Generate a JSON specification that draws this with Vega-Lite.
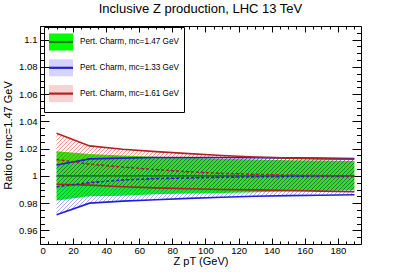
{
"$schema": "https://vega.github.io/schema/vega-lite/v6.json",
"width": 321,
"height": 218,
"autosize": {"type": "none"},
"padding": {"left": 40, "top": 26, "right": 40, "bottom": 28},
"background": "white",
"title": {"text": "Inclusive Z production, LHC 13 TeV", "font": "Liberation Sans", "fontSize": 13, "fontWeight": "normal", "anchor": "middle", "offset": 10, "color": "black"},
"data": {"values": [
{"s":"Pert. Charm, mc=1.47 GeV","k":"g","x":10,"lo":0.982,"c":1,"hi":1.018},
{"s":"Pert. Charm, mc=1.47 GeV","k":"g","x":30,"lo":0.985,"c":1,"hi":1.016},
{"s":"Pert. Charm, mc=1.47 GeV","k":"g","x":50,"lo":0.9855,"c":1,"hi":1.015},
{"s":"Pert. Charm, mc=1.47 GeV","k":"g","x":70,"lo":0.9865,"c":1,"hi":1.014},
{"s":"Pert. Charm, mc=1.47 GeV","k":"g","x":90,"lo":0.987,"c":1,"hi":1.0133},
{"s":"Pert. Charm, mc=1.47 GeV","k":"g","x":110,"lo":0.9875,"c":1,"hi":1.0125},
{"s":"Pert. Charm, mc=1.47 GeV","k":"g","x":130,"lo":0.988,"c":1,"hi":1.012},
{"s":"Pert. Charm, mc=1.47 GeV","k":"g","x":150,"lo":0.9885,"c":1,"hi":1.0115},
{"s":"Pert. Charm, mc=1.47 GeV","k":"g","x":170,"lo":0.989,"c":1,"hi":1.0112},
{"s":"Pert. Charm, mc=1.47 GeV","k":"g","x":190,"lo":0.9895,"c":1,"hi":1.011},
{"s":"Pert. Charm, mc=1.33 GeV","k":"b","x":10,"lo":0.9714,"c":0.992,"hi":1.008},
{"s":"Pert. Charm, mc=1.33 GeV","k":"b","x":30,"lo":0.98,"c":0.995,"hi":1.0125},
{"s":"Pert. Charm, mc=1.33 GeV","k":"b","x":50,"lo":0.9815,"c":0.997,"hi":1.013},
{"s":"Pert. Charm, mc=1.33 GeV","k":"b","x":70,"lo":0.9825,"c":0.998,"hi":1.0135},
{"s":"Pert. Charm, mc=1.33 GeV","k":"b","x":90,"lo":0.9835,"c":0.9985,"hi":1.0135},
{"s":"Pert. Charm, mc=1.33 GeV","k":"b","x":110,"lo":0.9843,"c":0.999,"hi":1.0135},
{"s":"Pert. Charm, mc=1.33 GeV","k":"b","x":130,"lo":0.985,"c":0.9993,"hi":1.0134},
{"s":"Pert. Charm, mc=1.33 GeV","k":"b","x":150,"lo":0.9855,"c":0.9995,"hi":1.0132},
{"s":"Pert. Charm, mc=1.33 GeV","k":"b","x":170,"lo":0.9858,"c":0.9995,"hi":1.013},
{"s":"Pert. Charm, mc=1.33 GeV","k":"b","x":190,"lo":0.9861,"c":0.9995,"hi":1.0127},
{"s":"Pert. Charm, mc=1.61 GeV","k":"r","x":10,"lo":0.9939,"c":1.012,"hi":1.0313},
{"s":"Pert. Charm, mc=1.61 GeV","k":"r","x":30,"lo":0.9932,"c":1.0086,"hi":1.022},
{"s":"Pert. Charm, mc=1.61 GeV","k":"r","x":50,"lo":0.992,"c":1.0065,"hi":1.0195},
{"s":"Pert. Charm, mc=1.61 GeV","k":"r","x":70,"lo":0.9912,"c":1.0046,"hi":1.0178},
{"s":"Pert. Charm, mc=1.61 GeV","k":"r","x":90,"lo":0.9905,"c":1.003,"hi":1.0163},
{"s":"Pert. Charm, mc=1.61 GeV","k":"r","x":110,"lo":0.99,"c":1.0018,"hi":1.015},
{"s":"Pert. Charm, mc=1.61 GeV","k":"r","x":130,"lo":0.9897,"c":1.0012,"hi":1.0138},
{"s":"Pert. Charm, mc=1.61 GeV","k":"r","x":150,"lo":0.9893,"c":1.0006,"hi":1.013},
{"s":"Pert. Charm, mc=1.61 GeV","k":"r","x":170,"lo":0.9888,"c":1.0002,"hi":1.0125},
{"s":"Pert. Charm, mc=1.61 GeV","k":"r","x":190,"lo":0.9883,"c":1.0,"hi":1.0122}
]},
"resolve": {"axis": {"x": "independent", "y": "independent"}},
"layer": [
{
"transform": [{"filter": "datum.k === 'g'"}],
"mark": {"type": "area", "opacity": 1},
"encoding": {
"x": {"field": "x", "type": "quantitative", "scale": {"domain": [0, 194], "nice": false, "zero": false},
 "axis": {"orient": "bottom", "values": [0,20,40,60,80,100,120,140,160,180], "tickSize": -6, "labelPadding": 7.5, "title": "Z pT (GeV)", "titlePadding": 0}},
"y": {"field": "lo", "type": "quantitative", "scale": {"domain": [0.95, 1.11], "nice": false, "zero": false},
 "axis": {"orient": "left", "values": [0.96,0.98,1,1.02,1.04,1.06,1.08,1.1], "format": "~g", "tickSize": -9, "labelPadding": 12, "title": "Ratio to mc=1.47 GeV", "titlePadding": 5}},
"y2": {"field": "hi"},
"fill": {"field": "s", "type": "nominal",
 "scale": {"domain": ["Pert. Charm, mc=1.47 GeV", "Pert. Charm, mc=1.33 GeV", "Pert. Charm, mc=1.61 GeV"],
  "range": ["#00ff00", "#d4d4ff", "#f8d2d2"]},
 "legend": {"title": null, "orient": "none", "legendX": 4, "legendY": 1, "direction": "vertical", "strokeColor": "black", "padding": 5, "symbolType": "M-1.41,-1H1.41V1H-1.41Z", "symbolSize": 289, "symbolStrokeWidth": 2.2, "symbolStrokeColor": "transparent", "symbolOffset": 2, "symbolOpacity": 1, "labelFont": "Liberation Sans", "labelFontSize": 8.2, "labelColor": "black", "labelOffset": 9, "rowPadding": -0.2, "labelLimit": 300}}
}
},
{
"transform": [{"filter": "datum.k === 'r'"}],
"mark": {"type": "area", "fillOpacity": 0.45, "fill": {"gradient":"linear","x1":0,"y1":0,"x2":1.2931,"y2":0.2545,"stops":[
{"offset":0.006,"color":"#f000"},{"offset":0.008,"color":"#f00"},{"offset":0.01,"color":"#f000"},
{"offset":0.016,"color":"#f000"},{"offset":0.018,"color":"#f00"},{"offset":0.02,"color":"#f000"},
{"offset":0.026,"color":"#f000"},{"offset":0.028,"color":"#f00"},{"offset":0.03,"color":"#f000"},
{"offset":0.036,"color":"#f000"},{"offset":0.038,"color":"#f00"},{"offset":0.04,"color":"#f000"},
{"offset":0.046,"color":"#f000"},{"offset":0.048,"color":"#f00"},{"offset":0.05,"color":"#f000"},
{"offset":0.056,"color":"#f000"},{"offset":0.058,"color":"#f00"},{"offset":0.06,"color":"#f000"},
{"offset":0.066,"color":"#f000"},{"offset":0.068,"color":"#f00"},{"offset":0.07,"color":"#f000"},
{"offset":0.076,"color":"#f000"},{"offset":0.078,"color":"#f00"},{"offset":0.08,"color":"#f000"},
{"offset":0.086,"color":"#f000"},{"offset":0.088,"color":"#f00"},{"offset":0.09,"color":"#f000"},
{"offset":0.096,"color":"#f000"},{"offset":0.098,"color":"#f00"},{"offset":0.1,"color":"#f000"},
{"offset":0.106,"color":"#f000"},{"offset":0.108,"color":"#f00"},{"offset":0.11,"color":"#f000"},
{"offset":0.116,"color":"#f000"},{"offset":0.118,"color":"#f00"},{"offset":0.12,"color":"#f000"},
{"offset":0.126,"color":"#f000"},{"offset":0.128,"color":"#f00"},{"offset":0.13,"color":"#f000"},
{"offset":0.136,"color":"#f000"},{"offset":0.138,"color":"#f00"},{"offset":0.14,"color":"#f000"},
{"offset":0.146,"color":"#f000"},{"offset":0.148,"color":"#f00"},{"offset":0.15,"color":"#f000"},
{"offset":0.156,"color":"#f000"},{"offset":0.158,"color":"#f00"},{"offset":0.16,"color":"#f000"},
{"offset":0.166,"color":"#f000"},{"offset":0.168,"color":"#f00"},{"offset":0.17,"color":"#f000"},
{"offset":0.176,"color":"#f000"},{"offset":0.178,"color":"#f00"},{"offset":0.18,"color":"#f000"},
{"offset":0.186,"color":"#f000"},{"offset":0.188,"color":"#f00"},{"offset":0.19,"color":"#f000"},
{"offset":0.196,"color":"#f000"},{"offset":0.198,"color":"#f00"},{"offset":0.2,"color":"#f000"},
{"offset":0.206,"color":"#f000"},{"offset":0.208,"color":"#f00"},{"offset":0.21,"color":"#f000"},
{"offset":0.216,"color":"#f000"},{"offset":0.218,"color":"#f00"},{"offset":0.22,"color":"#f000"},
{"offset":0.226,"color":"#f000"},{"offset":0.228,"color":"#f00"},{"offset":0.23,"color":"#f000"},
{"offset":0.236,"color":"#f000"},{"offset":0.238,"color":"#f00"},{"offset":0.24,"color":"#f000"},
{"offset":0.246,"color":"#f000"},{"offset":0.248,"color":"#f00"},{"offset":0.25,"color":"#f000"},
{"offset":0.256,"color":"#f000"},{"offset":0.258,"color":"#f00"},{"offset":0.26,"color":"#f000"},
{"offset":0.266,"color":"#f000"},{"offset":0.268,"color":"#f00"},{"offset":0.27,"color":"#f000"},
{"offset":0.276,"color":"#f000"},{"offset":0.278,"color":"#f00"},{"offset":0.28,"color":"#f000"},
{"offset":0.286,"color":"#f000"},{"offset":0.288,"color":"#f00"},{"offset":0.29,"color":"#f000"},
{"offset":0.296,"color":"#f000"},{"offset":0.298,"color":"#f00"},{"offset":0.3,"color":"#f000"},
{"offset":0.306,"color":"#f000"},{"offset":0.308,"color":"#f00"},{"offset":0.31,"color":"#f000"},
{"offset":0.316,"color":"#f000"},{"offset":0.318,"color":"#f00"},{"offset":0.32,"color":"#f000"},
{"offset":0.326,"color":"#f000"},{"offset":0.328,"color":"#f00"},{"offset":0.33,"color":"#f000"},
{"offset":0.336,"color":"#f000"},{"offset":0.338,"color":"#f00"},{"offset":0.34,"color":"#f000"},
{"offset":0.346,"color":"#f000"},{"offset":0.348,"color":"#f00"},{"offset":0.35,"color":"#f000"},
{"offset":0.356,"color":"#f000"},{"offset":0.358,"color":"#f00"},{"offset":0.36,"color":"#f000"},
{"offset":0.366,"color":"#f000"},{"offset":0.368,"color":"#f00"},{"offset":0.37,"color":"#f000"},
{"offset":0.376,"color":"#f000"},{"offset":0.378,"color":"#f00"},{"offset":0.38,"color":"#f000"},
{"offset":0.386,"color":"#f000"},{"offset":0.388,"color":"#f00"},{"offset":0.39,"color":"#f000"},
{"offset":0.396,"color":"#f000"},{"offset":0.398,"color":"#f00"},{"offset":0.4,"color":"#f000"},
{"offset":0.406,"color":"#f000"},{"offset":0.408,"color":"#f00"},{"offset":0.41,"color":"#f000"},
{"offset":0.416,"color":"#f000"},{"offset":0.418,"color":"#f00"},{"offset":0.42,"color":"#f000"},
{"offset":0.426,"color":"#f000"},{"offset":0.428,"color":"#f00"},{"offset":0.43,"color":"#f000"},
{"offset":0.436,"color":"#f000"},{"offset":0.438,"color":"#f00"},{"offset":0.44,"color":"#f000"},
{"offset":0.446,"color":"#f000"},{"offset":0.448,"color":"#f00"},{"offset":0.45,"color":"#f000"},
{"offset":0.456,"color":"#f000"},{"offset":0.458,"color":"#f00"},{"offset":0.46,"color":"#f000"},
{"offset":0.466,"color":"#f000"},{"offset":0.468,"color":"#f00"},{"offset":0.47,"color":"#f000"},
{"offset":0.476,"color":"#f000"},{"offset":0.478,"color":"#f00"},{"offset":0.48,"color":"#f000"},
{"offset":0.486,"color":"#f000"},{"offset":0.488,"color":"#f00"},{"offset":0.49,"color":"#f000"},
{"offset":0.496,"color":"#f000"},{"offset":0.498,"color":"#f00"},{"offset":0.5,"color":"#f000"},
{"offset":0.506,"color":"#f000"},{"offset":0.508,"color":"#f00"},{"offset":0.51,"color":"#f000"},
{"offset":0.516,"color":"#f000"},{"offset":0.518,"color":"#f00"},{"offset":0.52,"color":"#f000"},
{"offset":0.526,"color":"#f000"},{"offset":0.528,"color":"#f00"},{"offset":0.53,"color":"#f000"},
{"offset":0.536,"color":"#f000"},{"offset":0.538,"color":"#f00"},{"offset":0.54,"color":"#f000"},
{"offset":0.546,"color":"#f000"},{"offset":0.548,"color":"#f00"},{"offset":0.55,"color":"#f000"},
{"offset":0.556,"color":"#f000"},{"offset":0.558,"color":"#f00"},{"offset":0.56,"color":"#f000"},
{"offset":0.566,"color":"#f000"},{"offset":0.568,"color":"#f00"},{"offset":0.57,"color":"#f000"},
{"offset":0.576,"color":"#f000"},{"offset":0.578,"color":"#f00"},{"offset":0.58,"color":"#f000"},
{"offset":0.586,"color":"#f000"},{"offset":0.588,"color":"#f00"},{"offset":0.59,"color":"#f000"},
{"offset":0.596,"color":"#f000"},{"offset":0.598,"color":"#f00"},{"offset":0.6,"color":"#f000"},
{"offset":0.606,"color":"#f000"},{"offset":0.608,"color":"#f00"},{"offset":0.61,"color":"#f000"},
{"offset":0.616,"color":"#f000"},{"offset":0.618,"color":"#f00"},{"offset":0.62,"color":"#f000"},
{"offset":0.626,"color":"#f000"},{"offset":0.628,"color":"#f00"},{"offset":0.63,"color":"#f000"},
{"offset":0.636,"color":"#f000"},{"offset":0.638,"color":"#f00"},{"offset":0.64,"color":"#f000"},
{"offset":0.646,"color":"#f000"},{"offset":0.648,"color":"#f00"},{"offset":0.65,"color":"#f000"},
{"offset":0.656,"color":"#f000"},{"offset":0.658,"color":"#f00"},{"offset":0.66,"color":"#f000"},
{"offset":0.666,"color":"#f000"},{"offset":0.668,"color":"#f00"},{"offset":0.67,"color":"#f000"},
{"offset":0.676,"color":"#f000"},{"offset":0.678,"color":"#f00"},{"offset":0.68,"color":"#f000"},
{"offset":0.686,"color":"#f000"},{"offset":0.688,"color":"#f00"},{"offset":0.69,"color":"#f000"},
{"offset":0.696,"color":"#f000"},{"offset":0.698,"color":"#f00"},{"offset":0.7,"color":"#f000"},
{"offset":0.706,"color":"#f000"},{"offset":0.708,"color":"#f00"},{"offset":0.71,"color":"#f000"},
{"offset":0.716,"color":"#f000"},{"offset":0.718,"color":"#f00"},{"offset":0.72,"color":"#f000"},
{"offset":0.726,"color":"#f000"},{"offset":0.728,"color":"#f00"},{"offset":0.73,"color":"#f000"},
{"offset":0.736,"color":"#f000"},{"offset":0.738,"color":"#f00"},{"offset":0.74,"color":"#f000"},
{"offset":0.746,"color":"#f000"},{"offset":0.748,"color":"#f00"},{"offset":0.75,"color":"#f000"},
{"offset":0.756,"color":"#f000"},{"offset":0.758,"color":"#f00"},{"offset":0.76,"color":"#f000"},
{"offset":0.766,"color":"#f000"},{"offset":0.768,"color":"#f00"},{"offset":0.77,"color":"#f000"},
{"offset":0.776,"color":"#f000"},{"offset":0.778,"color":"#f00"},{"offset":0.78,"color":"#f000"},
{"offset":0.786,"color":"#f000"},{"offset":0.788,"color":"#f00"},{"offset":0.79,"color":"#f000"},
{"offset":0.796,"color":"#f000"},{"offset":0.798,"color":"#f00"},{"offset":0.8,"color":"#f000"},
{"offset":0.806,"color":"#f000"},{"offset":0.808,"color":"#f00"},{"offset":0.81,"color":"#f000"},
{"offset":0.816,"color":"#f000"},{"offset":0.818,"color":"#f00"},{"offset":0.82,"color":"#f000"},
{"offset":0.826,"color":"#f000"},{"offset":0.828,"color":"#f00"},{"offset":0.83,"color":"#f000"},
{"offset":0.836,"color":"#f000"},{"offset":0.838,"color":"#f00"},{"offset":0.84,"color":"#f000"},
{"offset":0.846,"color":"#f000"},{"offset":0.848,"color":"#f00"},{"offset":0.85,"color":"#f000"},
{"offset":0.856,"color":"#f000"},{"offset":0.858,"color":"#f00"},{"offset":0.86,"color":"#f000"},
{"offset":0.866,"color":"#f000"},{"offset":0.868,"color":"#f00"},{"offset":0.87,"color":"#f000"},
{"offset":0.876,"color":"#f000"},{"offset":0.878,"color":"#f00"},{"offset":0.88,"color":"#f000"},
{"offset":0.886,"color":"#f000"},{"offset":0.888,"color":"#f00"},{"offset":0.89,"color":"#f000"},
{"offset":0.896,"color":"#f000"},{"offset":0.898,"color":"#f00"},{"offset":0.9,"color":"#f000"}
]}},
"encoding": {
"x": {"field": "x", "type": "quantitative", "axis": {"orient": "top", "values": [0,20,40,60,80,100,120,140,160,180], "tickSize": -6, "labels": false, "title": null}},
"y": {"field": "lo", "type": "quantitative", "axis": {"orient": "right", "values": [0.96,0.98,1,1.02,1.04,1.06,1.08,1.1], "tickSize": -9, "labels": false, "title": null}},
"y2": {"field": "hi"}
}
},
{
"transform": [{"filter": "datum.k === 'b'"}],
"mark": {"type": "area", "fillOpacity": 0.45, "fill": {"gradient":"linear","x1":0,"y1":0,"x2":1.2951,"y2":0.2496,"stops":[
{"offset":0.006,"color":"#00f0"},{"offset":0.008,"color":"#00f"},{"offset":0.01,"color":"#00f0"},
{"offset":0.016,"color":"#00f0"},{"offset":0.018,"color":"#00f"},{"offset":0.02,"color":"#00f0"},
{"offset":0.026,"color":"#00f0"},{"offset":0.028,"color":"#00f"},{"offset":0.03,"color":"#00f0"},
{"offset":0.036,"color":"#00f0"},{"offset":0.038,"color":"#00f"},{"offset":0.04,"color":"#00f0"},
{"offset":0.046,"color":"#00f0"},{"offset":0.048,"color":"#00f"},{"offset":0.05,"color":"#00f0"},
{"offset":0.056,"color":"#00f0"},{"offset":0.058,"color":"#00f"},{"offset":0.06,"color":"#00f0"},
{"offset":0.066,"color":"#00f0"},{"offset":0.068,"color":"#00f"},{"offset":0.07,"color":"#00f0"},
{"offset":0.076,"color":"#00f0"},{"offset":0.078,"color":"#00f"},{"offset":0.08,"color":"#00f0"},
{"offset":0.086,"color":"#00f0"},{"offset":0.088,"color":"#00f"},{"offset":0.09,"color":"#00f0"},
{"offset":0.096,"color":"#00f0"},{"offset":0.098,"color":"#00f"},{"offset":0.1,"color":"#00f0"},
{"offset":0.106,"color":"#00f0"},{"offset":0.108,"color":"#00f"},{"offset":0.11,"color":"#00f0"},
{"offset":0.116,"color":"#00f0"},{"offset":0.118,"color":"#00f"},{"offset":0.12,"color":"#00f0"},
{"offset":0.126,"color":"#00f0"},{"offset":0.128,"color":"#00f"},{"offset":0.13,"color":"#00f0"},
{"offset":0.136,"color":"#00f0"},{"offset":0.138,"color":"#00f"},{"offset":0.14,"color":"#00f0"},
{"offset":0.146,"color":"#00f0"},{"offset":0.148,"color":"#00f"},{"offset":0.15,"color":"#00f0"},
{"offset":0.156,"color":"#00f0"},{"offset":0.158,"color":"#00f"},{"offset":0.16,"color":"#00f0"},
{"offset":0.166,"color":"#00f0"},{"offset":0.168,"color":"#00f"},{"offset":0.17,"color":"#00f0"},
{"offset":0.176,"color":"#00f0"},{"offset":0.178,"color":"#00f"},{"offset":0.18,"color":"#00f0"},
{"offset":0.186,"color":"#00f0"},{"offset":0.188,"color":"#00f"},{"offset":0.19,"color":"#00f0"},
{"offset":0.196,"color":"#00f0"},{"offset":0.198,"color":"#00f"},{"offset":0.2,"color":"#00f0"},
{"offset":0.206,"color":"#00f0"},{"offset":0.208,"color":"#00f"},{"offset":0.21,"color":"#00f0"},
{"offset":0.216,"color":"#00f0"},{"offset":0.218,"color":"#00f"},{"offset":0.22,"color":"#00f0"},
{"offset":0.226,"color":"#00f0"},{"offset":0.228,"color":"#00f"},{"offset":0.23,"color":"#00f0"},
{"offset":0.236,"color":"#00f0"},{"offset":0.238,"color":"#00f"},{"offset":0.24,"color":"#00f0"},
{"offset":0.246,"color":"#00f0"},{"offset":0.248,"color":"#00f"},{"offset":0.25,"color":"#00f0"},
{"offset":0.256,"color":"#00f0"},{"offset":0.258,"color":"#00f"},{"offset":0.26,"color":"#00f0"},
{"offset":0.266,"color":"#00f0"},{"offset":0.268,"color":"#00f"},{"offset":0.27,"color":"#00f0"},
{"offset":0.276,"color":"#00f0"},{"offset":0.278,"color":"#00f"},{"offset":0.28,"color":"#00f0"},
{"offset":0.286,"color":"#00f0"},{"offset":0.288,"color":"#00f"},{"offset":0.29,"color":"#00f0"},
{"offset":0.296,"color":"#00f0"},{"offset":0.298,"color":"#00f"},{"offset":0.3,"color":"#00f0"},
{"offset":0.306,"color":"#00f0"},{"offset":0.308,"color":"#00f"},{"offset":0.31,"color":"#00f0"},
{"offset":0.316,"color":"#00f0"},{"offset":0.318,"color":"#00f"},{"offset":0.32,"color":"#00f0"},
{"offset":0.326,"color":"#00f0"},{"offset":0.328,"color":"#00f"},{"offset":0.33,"color":"#00f0"},
{"offset":0.336,"color":"#00f0"},{"offset":0.338,"color":"#00f"},{"offset":0.34,"color":"#00f0"},
{"offset":0.346,"color":"#00f0"},{"offset":0.348,"color":"#00f"},{"offset":0.35,"color":"#00f0"},
{"offset":0.356,"color":"#00f0"},{"offset":0.358,"color":"#00f"},{"offset":0.36,"color":"#00f0"},
{"offset":0.366,"color":"#00f0"},{"offset":0.368,"color":"#00f"},{"offset":0.37,"color":"#00f0"},
{"offset":0.376,"color":"#00f0"},{"offset":0.378,"color":"#00f"},{"offset":0.38,"color":"#00f0"},
{"offset":0.386,"color":"#00f0"},{"offset":0.388,"color":"#00f"},{"offset":0.39,"color":"#00f0"},
{"offset":0.396,"color":"#00f0"},{"offset":0.398,"color":"#00f"},{"offset":0.4,"color":"#00f0"},
{"offset":0.406,"color":"#00f0"},{"offset":0.408,"color":"#00f"},{"offset":0.41,"color":"#00f0"},
{"offset":0.416,"color":"#00f0"},{"offset":0.418,"color":"#00f"},{"offset":0.42,"color":"#00f0"},
{"offset":0.426,"color":"#00f0"},{"offset":0.428,"color":"#00f"},{"offset":0.43,"color":"#00f0"},
{"offset":0.436,"color":"#00f0"},{"offset":0.438,"color":"#00f"},{"offset":0.44,"color":"#00f0"},
{"offset":0.446,"color":"#00f0"},{"offset":0.448,"color":"#00f"},{"offset":0.45,"color":"#00f0"},
{"offset":0.456,"color":"#00f0"},{"offset":0.458,"color":"#00f"},{"offset":0.46,"color":"#00f0"},
{"offset":0.466,"color":"#00f0"},{"offset":0.468,"color":"#00f"},{"offset":0.47,"color":"#00f0"},
{"offset":0.476,"color":"#00f0"},{"offset":0.478,"color":"#00f"},{"offset":0.48,"color":"#00f0"},
{"offset":0.486,"color":"#00f0"},{"offset":0.488,"color":"#00f"},{"offset":0.49,"color":"#00f0"},
{"offset":0.496,"color":"#00f0"},{"offset":0.498,"color":"#00f"},{"offset":0.5,"color":"#00f0"},
{"offset":0.506,"color":"#00f0"},{"offset":0.508,"color":"#00f"},{"offset":0.51,"color":"#00f0"},
{"offset":0.516,"color":"#00f0"},{"offset":0.518,"color":"#00f"},{"offset":0.52,"color":"#00f0"},
{"offset":0.526,"color":"#00f0"},{"offset":0.528,"color":"#00f"},{"offset":0.53,"color":"#00f0"},
{"offset":0.536,"color":"#00f0"},{"offset":0.538,"color":"#00f"},{"offset":0.54,"color":"#00f0"},
{"offset":0.546,"color":"#00f0"},{"offset":0.548,"color":"#00f"},{"offset":0.55,"color":"#00f0"},
{"offset":0.556,"color":"#00f0"},{"offset":0.558,"color":"#00f"},{"offset":0.56,"color":"#00f0"},
{"offset":0.566,"color":"#00f0"},{"offset":0.568,"color":"#00f"},{"offset":0.57,"color":"#00f0"},
{"offset":0.576,"color":"#00f0"},{"offset":0.578,"color":"#00f"},{"offset":0.58,"color":"#00f0"},
{"offset":0.586,"color":"#00f0"},{"offset":0.588,"color":"#00f"},{"offset":0.59,"color":"#00f0"},
{"offset":0.596,"color":"#00f0"},{"offset":0.598,"color":"#00f"},{"offset":0.6,"color":"#00f0"},
{"offset":0.606,"color":"#00f0"},{"offset":0.608,"color":"#00f"},{"offset":0.61,"color":"#00f0"},
{"offset":0.616,"color":"#00f0"},{"offset":0.618,"color":"#00f"},{"offset":0.62,"color":"#00f0"},
{"offset":0.626,"color":"#00f0"},{"offset":0.628,"color":"#00f"},{"offset":0.63,"color":"#00f0"},
{"offset":0.636,"color":"#00f0"},{"offset":0.638,"color":"#00f"},{"offset":0.64,"color":"#00f0"},
{"offset":0.646,"color":"#00f0"},{"offset":0.648,"color":"#00f"},{"offset":0.65,"color":"#00f0"},
{"offset":0.656,"color":"#00f0"},{"offset":0.658,"color":"#00f"},{"offset":0.66,"color":"#00f0"},
{"offset":0.666,"color":"#00f0"},{"offset":0.668,"color":"#00f"},{"offset":0.67,"color":"#00f0"},
{"offset":0.676,"color":"#00f0"},{"offset":0.678,"color":"#00f"},{"offset":0.68,"color":"#00f0"},
{"offset":0.686,"color":"#00f0"},{"offset":0.688,"color":"#00f"},{"offset":0.69,"color":"#00f0"},
{"offset":0.696,"color":"#00f0"},{"offset":0.698,"color":"#00f"},{"offset":0.7,"color":"#00f0"},
{"offset":0.706,"color":"#00f0"},{"offset":0.708,"color":"#00f"},{"offset":0.71,"color":"#00f0"},
{"offset":0.716,"color":"#00f0"},{"offset":0.718,"color":"#00f"},{"offset":0.72,"color":"#00f0"},
{"offset":0.726,"color":"#00f0"},{"offset":0.728,"color":"#00f"},{"offset":0.73,"color":"#00f0"},
{"offset":0.736,"color":"#00f0"},{"offset":0.738,"color":"#00f"},{"offset":0.74,"color":"#00f0"},
{"offset":0.746,"color":"#00f0"},{"offset":0.748,"color":"#00f"},{"offset":0.75,"color":"#00f0"},
{"offset":0.756,"color":"#00f0"},{"offset":0.758,"color":"#00f"},{"offset":0.76,"color":"#00f0"},
{"offset":0.766,"color":"#00f0"},{"offset":0.768,"color":"#00f"},{"offset":0.77,"color":"#00f0"},
{"offset":0.776,"color":"#00f0"},{"offset":0.778,"color":"#00f"},{"offset":0.78,"color":"#00f0"},
{"offset":0.786,"color":"#00f0"},{"offset":0.788,"color":"#00f"},{"offset":0.79,"color":"#00f0"},
{"offset":0.796,"color":"#00f0"},{"offset":0.798,"color":"#00f"},{"offset":0.8,"color":"#00f0"},
{"offset":0.806,"color":"#00f0"},{"offset":0.808,"color":"#00f"},{"offset":0.81,"color":"#00f0"},
{"offset":0.816,"color":"#00f0"},{"offset":0.818,"color":"#00f"},{"offset":0.82,"color":"#00f0"},
{"offset":0.826,"color":"#00f0"},{"offset":0.828,"color":"#00f"},{"offset":0.83,"color":"#00f0"},
{"offset":0.836,"color":"#00f0"},{"offset":0.838,"color":"#00f"},{"offset":0.84,"color":"#00f0"},
{"offset":0.846,"color":"#00f0"},{"offset":0.848,"color":"#00f"},{"offset":0.85,"color":"#00f0"},
{"offset":0.856,"color":"#00f0"},{"offset":0.858,"color":"#00f"},{"offset":0.86,"color":"#00f0"},
{"offset":0.866,"color":"#00f0"},{"offset":0.868,"color":"#00f"},{"offset":0.87,"color":"#00f0"},
{"offset":0.876,"color":"#00f0"},{"offset":0.878,"color":"#00f"},{"offset":0.88,"color":"#00f0"},
{"offset":0.886,"color":"#00f0"},{"offset":0.888,"color":"#00f"},{"offset":0.89,"color":"#00f0"},
{"offset":0.896,"color":"#00f0"},{"offset":0.898,"color":"#00f"},{"offset":0.9,"color":"#00f0"}
]}},
"encoding": {
"x": {"field": "x", "type": "quantitative", "axis": {"orient": "bottom", "values": [5,10,15,25,30,35,45,50,55,65,70,75,85,90,95,105,110,115,125,130,135,145,150,155,165,170,175,185,190], "tickSize": -3, "labels": false, "title": null}},
"y": {"field": "lo", "type": "quantitative", "axis": {"orient": "left", "values": [0.955,0.965,0.97,0.975,0.985,0.99,0.995,1.005,1.01,1.015,1.025,1.03,1.035,1.045,1.05,1.055,1.065,1.07,1.075,1.085,1.09,1.095,1.105], "tickSize": -4.5, "labels": false, "title": null}},
"y2": {"field": "hi"}
}
},
{
"transform": [{"filter": "datum.k !== 'g'"}],
"mark": {"type": "line", "strokeWidth": 1.6},
"encoding": {
"x": {"field": "x", "type": "quantitative", "axis": {"orient": "top", "values": [5,10,15,25,30,35,45,50,55,65,70,75,85,90,95,105,110,115,125,130,135,145,150,155,165,170,175,185,190], "tickSize": -3, "labels": false, "title": null}},
"y": {"field": "hi", "type": "quantitative", "axis": {"orient": "right", "values": [0.955,0.965,0.97,0.975,0.985,0.99,0.995,1.005,1.01,1.015,1.025,1.03,1.035,1.045,1.05,1.055,1.065,1.07,1.075,1.085,1.09,1.095,1.105], "tickSize": -4.5, "labels": false, "title": null}},
"stroke": {"field": "k", "type": "nominal", "scale": {"domain": ["g","b","r"], "range": ["#1a7a1a","#2020d8","#b22222"]}}
}
},
{
"transform": [{"filter": "datum.k !== 'g'"}],
"mark": {"type": "line", "strokeWidth": 1.6},
"encoding": {
"x": {"field": "x", "type": "quantitative", "axis": null},
"y": {"field": "lo", "type": "quantitative", "axis": null},
"stroke": {"field": "k", "type": "nominal"}
}
},
{
"mark": {"type": "line", "strokeWidth": 1.6},
"encoding": {
"x": {"field": "x", "type": "quantitative", "axis": null},
"y": {"field": "c", "type": "quantitative", "axis": null},
"stroke": {"field": "k", "type": "nominal",
 "legend": {"title": null, "orient": "none", "legendX": 4, "legendY": 1, "direction": "vertical", "padding": 5, "symbolType": "M-1.41,-1M-1.41,0H1.41M1.41,1", "symbolSize": 289, "symbolStrokeWidth": 2.2, "symbolOffset": 2, "symbolOpacity": 1, "labelExpr": "''", "labelFont": "Liberation Sans", "labelFontSize": 8.2, "labelOffset": 9, "rowPadding": -0.2}},
"strokeDash": {"field": "k", "type": "nominal", "scale": {"domain": ["r","b","g"], "range": [[3,2],[3,2],[1,0]]}, "legend": null}
}
}
],
"config": {
"view": {"stroke": "black", "strokeWidth": 1},
"axis": {"domain": false, "grid": false, "tickColor": "black", "tickWidth": 1, "labelColor": "black", "titleColor": "black", "labelFont": "Liberation Sans", "titleFont": "Liberation Sans", "labelFontSize": 9.5, "titleFontSize": 11, "titleFontWeight": "normal"}
}
}
